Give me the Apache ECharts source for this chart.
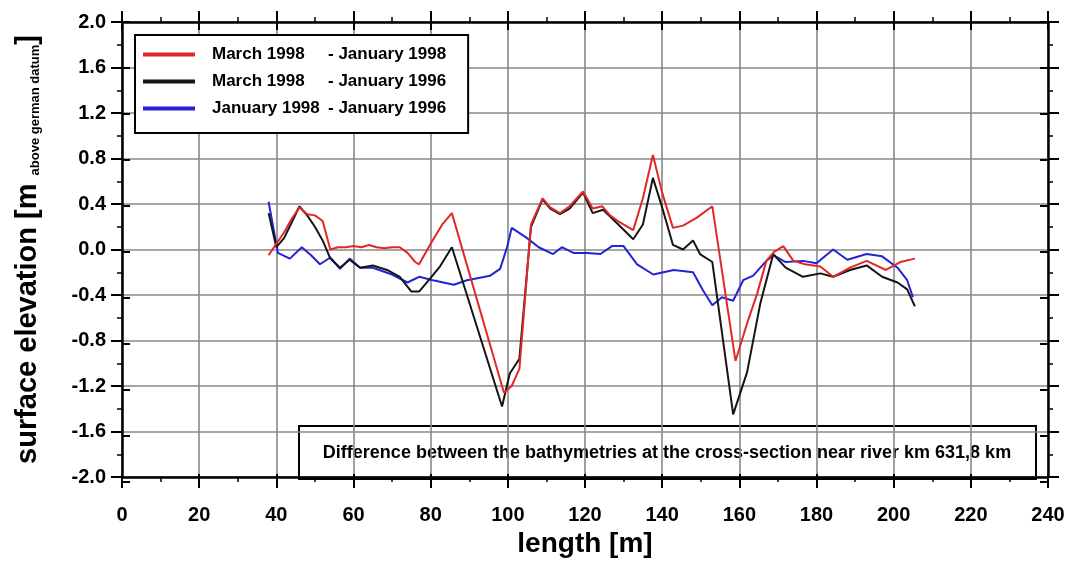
<!DOCTYPE html>
<html>
<head>
<meta charset="utf-8">
<script src="https://cdn.jsdelivr.net/npm/echarts@6/dist/echarts.min.js"></script>
<style>
html, body { margin: 0; padding: 0; background: #fff; }
#chart { width: 1070px; height: 563px; }
</style>
</head>
<body>
<div id="chart"></div>
<script>
// values: [length m, elevation difference m]
const marchJan98 = [
  [38, -0.05], [40, 0.05], [42, 0.15], [44, 0.27], [46, 0.37], [48, 0.31], [50, 0.30],
  [52, 0.25], [54, 0.00], [56, 0.02], [58, 0.02], [60, 0.03], [62, 0.02], [64, 0.04],
  [66, 0.02], [68, 0.01], [70, 0.02], [72, 0.02], [74, -0.03], [76, -0.11], [77, -0.13],
  [80, 0.05], [83, 0.22], [85.5, 0.32], [99, -1.26], [101, -1.2], [103, -1.05],
  [106, 0.22], [109, 0.45], [111, 0.37], [113.5, 0.32], [116, 0.38], [119.5, 0.51],
  [122, 0.36], [124.5, 0.38], [126.5, 0.30], [128.5, 0.25], [132.5, 0.17], [135, 0.45],
  [137.6, 0.83], [140, 0.5], [142.8, 0.19], [145.4, 0.21], [149, 0.28], [153, 0.38],
  [159, -0.98], [162, -0.65], [164.6, -0.39], [167, -0.1], [169, -0.02], [171.4, 0.03],
  [174, -0.1], [177, -0.13], [181, -0.15], [184.3, -0.24], [188.7, -0.16], [193, -0.1],
  [198, -0.18], [201.7, -0.11], [205.5, -0.08]
]
const marchJan96 = [
  [38, 0.32], [40, 0.02], [42, 0.1], [44, 0.24], [46, 0.38], [48, 0.3], [50, 0.2],
  [52, 0.08], [54, -0.08], [56.5, -0.16], [59, -0.09], [61.7, -0.16], [65, -0.14],
  [68.7, -0.18], [72, -0.24], [75, -0.37], [77, -0.37], [80, -0.25], [82.4, -0.15],
  [85.5, 0.02], [98.5, -1.38], [100.5, -1.09], [103, -0.96], [106, 0.2], [109, 0.44],
  [111, 0.36], [113.5, 0.31], [116, 0.36], [119.5, 0.50], [122, 0.32], [124.7, 0.35],
  [128.3, 0.23], [132.5, 0.09], [135, 0.22], [137.6, 0.63], [140, 0.37], [142.8, 0.04],
  [145.4, 0.0], [148, 0.08], [149.8, -0.04], [153, -0.11], [158.4, -1.45], [162, -1.08],
  [165.4, -0.48], [168.8, -0.04], [172, -0.16], [176.5, -0.24], [181, -0.21],
  [184.3, -0.24], [188.7, -0.18], [193, -0.14], [197, -0.24], [201, -0.29],
  [203.5, -0.35], [205.5, -0.5]
]
const jan98Jan96 = [
  [38, 0.42], [40.4, -0.03], [43.5, -0.08], [46.6, 0.02], [49, -0.05], [51.3, -0.13],
  [54, -0.07], [56.5, -0.17], [59, -0.08], [61.7, -0.16], [65, -0.16], [70, -0.22],
  [74, -0.29], [77, -0.24], [80.6, -0.27], [86, -0.31], [89.4, -0.27], [95.4, -0.23],
  [98, -0.17], [99.8, 0.02], [101, 0.19], [105, 0.10], [108, 0.02], [111.7, -0.04],
  [114, 0.02], [117, -0.03], [120.5, -0.03], [124, -0.04], [127, 0.03], [130, 0.03],
  [133.5, -0.13], [137.7, -0.22], [143, -0.18], [148, -0.2], [150.6, -0.36],
  [153, -0.49], [155.5, -0.42], [158.4, -0.45], [161, -0.27], [163.6, -0.23],
  [167, -0.1], [168.8, -0.05], [172, -0.11], [176.5, -0.1], [180, -0.12], [184.3, 0.0],
  [188, -0.09], [193, -0.04], [197, -0.06], [201, -0.16], [203.5, -0.27], [205, -0.42]
]
const seriesNames = ['March 1998 - January 1998', 'March 1998 - January 1996', 'January 1998 - January 1996']
const seriesColors = ['#e0282a', '#151515', '#2323d6']

const FONT = '"Liberation Sans", Arial, sans-serif'
const gridPos = { left: 122, right: 22, top: 22, bottom: 81 }

// axis with outer ticks (and optionally labels)
function outerX(pos, labels) {
  return {
    type: 'value', gridIndex: 0, position: pos, min: 0, max: 240, interval: 20,
    axisLine: { show: true, onZero: false, lineStyle: { color: '#000', width: 2.5 } },
    axisTick: { show: true, inside: false, length: 11, lineStyle: { color: '#000', width: 2 } },
    minorTick: { show: true, splitNumber: 2, length: 5, lineStyle: { color: '#000', width: 1.5 } },
    axisLabel: { show: labels, margin: 28, color: '#000', fontFamily: FONT, fontWeight: 'bold', fontSize: 20 },
    splitLine: { show: labels, lineStyle: { color: '#888', width: 1.6 } },
    name: labels ? 'length [m]' : '', nameLocation: 'middle', nameGap: 53,
    nameTextStyle: { color: '#000', fontFamily: FONT, fontWeight: 'bold', fontSize: 28 }
  }
}
function outerY(pos, labels) {
  return {
    type: 'value', gridIndex: 0, position: pos, min: -2, max: 2, interval: 0.4,
    axisLine: { show: true, onZero: false, lineStyle: { color: '#000', width: 2.5 } },
    axisTick: { show: true, inside: false, length: 11, lineStyle: { color: '#000', width: 2 } },
    minorTick: { show: true, splitNumber: 2, length: 5, lineStyle: { color: '#000', width: 1.5 } },
    axisLabel: {
      show: labels, margin: 16, color: '#000', fontFamily: FONT, fontWeight: 'bold', fontSize: 20,
      formatter: v => v.toFixed(1)
    },
    splitLine: { show: labels, lineStyle: { color: '#888', width: 1.6 } },
    name: labels ? '{a|surface elevation [m }{b|above german datum}{a|]}' : '',
    nameLocation: 'middle', nameGap: 80, nameRotate: 90,
    nameTextStyle: {
      color: '#000',
      rich: {
        a: { fontFamily: FONT, fontWeight: 'bold', fontSize: 29, color: '#000' },
        b: { fontFamily: FONT, fontWeight: 'bold', fontSize: 13, color: '#000', verticalAlign: 'bottom' }
      }
    }
  }
}
// second grid on top of the first, only for the inner half of the major ticks
function innerAxis(dim, pos) {
  const a = {
    type: 'value', gridIndex: 1, position: pos,
    axisLine: { show: false, onZero: false },
    axisTick: { show: true, inside: true, length: 8, lineStyle: { color: '#000', width: 2 } },
    axisLabel: { show: false },
    splitLine: { show: false }
  }
  if (dim === 'x') { a.min = 0; a.max = 240; a.interval = 20 } else { a.min = -2; a.max = 2; a.interval = 0.4 }
  return a
}

const chart = echarts.init(document.getElementById('chart'))
chart.setOption({
  backgroundColor: '#fff',
  animation: false,
  grid: [gridPos, gridPos],
  xAxis: [outerX('bottom', true), outerX('top', false), innerAxis('x', 'bottom'), innerAxis('x', 'top')],
  yAxis: [outerY('left', true), outerY('right', false), innerAxis('y', 'left'), innerAxis('y', 'right')],
  legend: {
    left: 135, top: 35, orient: 'vertical',
    data: seriesNames,
    icon: 'rect',
    backgroundColor: '#fff', borderColor: '#000', borderWidth: 2, borderRadius: 0,
    padding: [11, 22, 16, 8],
    itemWidth: 52, itemHeight: 4, itemGap: 10,
    formatter: n => {
      const p = n.split(' - ')
      return '{a|' + p[0] + '}{b|- ' + p[1] + '}'
    },
    textStyle: {
      rich: {
        a: { width: 116, padding: [0, 0, 0, 12], fontFamily: FONT, fontWeight: 'bold', fontSize: 17, color: '#000' },
        b: { fontFamily: FONT, fontWeight: 'bold', fontSize: 17, color: '#000' }
      }
    }
  },
  graphic: [{
    type: 'group', left: 298, top: 425, z: 100,
    children: [
      { type: 'rect', shape: { x: 0, y: 0, width: 737, height: 53 }, style: { fill: '#fff', stroke: '#000', lineWidth: 2 } },
      {
        type: 'text', x: 368, y: 27,
        style: {
          text: 'Difference between the bathymetries at the cross-section near river km 631,8 km',
          fontFamily: FONT, fontWeight: 'bold', fontSize: 18, fill: '#000',
          align: 'center', verticalAlign: 'middle'
        }
      }
    ]
  }],
  series: [
    { name: seriesNames[2], type: 'line', data: jan98Jan96, color: seriesColors[2] },
    { name: seriesNames[1], type: 'line', data: marchJan96, color: seriesColors[1] },
    { name: seriesNames[0], type: 'line', data: marchJan98, color: seriesColors[0] }
  ].map(s => Object.assign(s, {
    xAxisIndex: 0, yAxisIndex: 0, symbol: 'none', z: 3,
    lineStyle: { width: 2, color: s.color }
  }))
})
</script>
</body>
</html>
